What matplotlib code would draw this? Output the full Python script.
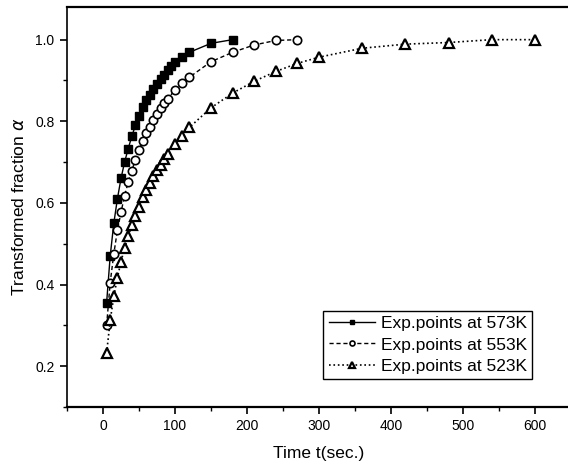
import matplotlib
matplotlib.use("Agg")
import matplotlib.pyplot as plt
from matplotlib.ticker import MultipleLocator

plt.rcParams['font.family'] = ['Liberation Sans', 'DejaVu Sans']

# 573K, filled squares
t_573 = [5, 10, 15, 20, 25, 30, 35, 40, 45, 50, 55, 60, 65, 70, 75, 80, 85,
         90, 95, 100, 110, 120, 150, 180]
a_573 = [0.355, 0.47, 0.55, 0.61, 0.66, 0.70, 0.733, 0.763, 0.79, 0.814,
         0.834, 0.851, 0.865, 0.878, 0.891, 0.903, 0.914, 0.925, 0.935, 0.945,
         0.957, 0.969, 0.991, 1.0]

# 553K, open circles
t_553 = [5, 10, 15, 20, 25, 30, 35, 40, 45, 50, 55, 60, 65, 70, 75, 80, 85,
         90, 100, 110, 120, 150, 180, 210, 240, 270]
a_553 = [0.30, 0.405, 0.475, 0.533, 0.577, 0.618, 0.651, 0.679, 0.706, 0.73,
         0.751, 0.771, 0.787, 0.804, 0.818, 0.833, 0.844, 0.855, 0.877, 0.893,
         0.908, 0.946, 0.969, 0.987, 0.998, 1.0]

# 523K, open triangles
t_523 = [5, 10, 15, 20, 25, 30, 35, 40, 45, 50, 55, 60, 65, 70, 75, 80, 85,
         90, 100, 110, 120, 150, 180, 210, 240, 270, 300, 360, 420, 480, 540, 600]
a_523 = [0.232, 0.312, 0.371, 0.417, 0.456, 0.49, 0.518, 0.545, 0.568, 0.591,
         0.614, 0.632, 0.648, 0.665, 0.68, 0.694, 0.708, 0.72, 0.745, 0.765,
         0.785, 0.833, 0.869, 0.898, 0.922, 0.942, 0.957, 0.979, 0.989, 0.993,
         1.0, 1.0]

labels = ['Exp.points at 573K', 'Exp.points at 553K', 'Exp.points at 523K']


def main():
    fig = plt.figure(figsize=(5.68, 4.67), dpi=100)
    # axes box: left spine at x=67, bottom at y=407, top at y=7 (pixels)
    ax = fig.add_axes([67 / 568, 60 / 467, 504 / 568, 400 / 467])

    ax.plot(t_573, a_573, '-', color='black', lw=1.0, marker='s', ms=6,
            mfc='black', mec='black', label=labels[0])
    ax.plot(t_553, a_553, '--', color='black', lw=1.0, marker='o', ms=6,
            mfc='white', mec='black', mew=1.2, label=labels[1], dashes=(3, 2))
    ax.plot(t_523, a_523, ':', color='black', lw=1.2, marker='^', ms=6.5,
            mfc='white', mec='black', mew=1.6, label=labels[2])

    ax.set_xlim(-50, 650)
    ax.set_ylim(0.1, 1.08)
    ax.xaxis.set_major_locator(MultipleLocator(100))
    ax.xaxis.set_minor_locator(MultipleLocator(50))
    ax.yaxis.set_minor_locator(MultipleLocator(0.1))
    ax.set_yticks([0.2, 0.4, 0.6, 0.8, 1.0])
    ax.set_yticklabels(['0.2', '0.4', '0.6', '0.8', '1.0'])
    ax.tick_params(which='major', direction='out', length=5, width=1.2,
                   labelsize=10, pad=4)
    ax.tick_params(which='minor', direction='out', length=3, width=1.0)

    ax.spines['right'].set_visible(False)
    ax.spines['top'].set_linewidth(1.6)
    ax.spines['bottom'].set_linewidth(1.6)
    ax.spines['left'].set_linewidth(1.2)

    ax.set_xlabel('Time t(sec.)', fontsize=12.5, labelpad=9)
    ax.set_ylabel(r'Transformed fraction $\alpha$', fontsize=12.5, labelpad=6)

    leg = ax.legend(loc='lower right', fontsize=12.5,
                    markerscale=0.6, handlelength=2.7, handletextpad=0.3,
                    borderpad=0.3, labelspacing=0.35, borderaxespad=0,
                    fancybox=False, edgecolor='black', framealpha=1)
    leg.set_bbox_to_anchor((532 / 568, (467 - 379) / 467), transform=fig.transFigure)
    leg.get_frame().set_linewidth(1.0)

    fig.savefig('out.png', dpi=100)


if __name__ == "__main__":
    main()
